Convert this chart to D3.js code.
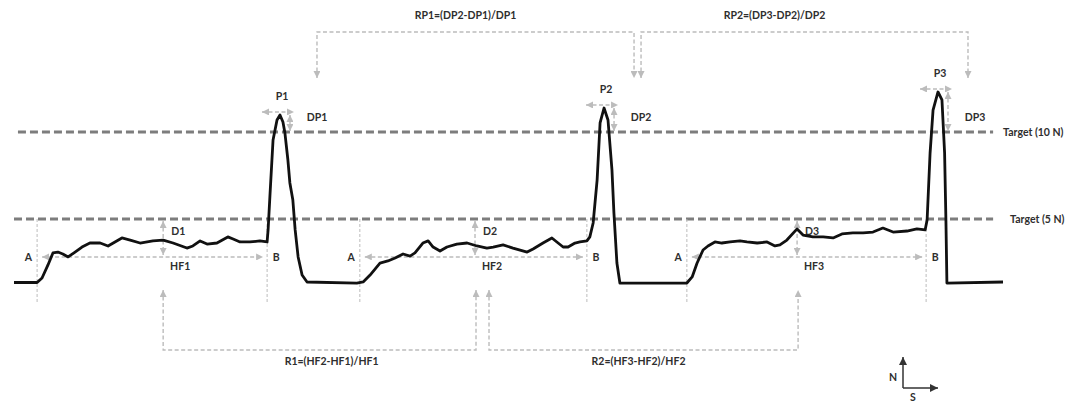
<!DOCTYPE html>
<html>
<head>
<meta charset="utf-8">
<script src="https://cdn.jsdelivr.net/npm/d3@7"></script>
<style>
  html, body { margin: 0; padding: 0; background: #fff; }
  svg { display: block; font-family: Lato, "Open Sans", sans-serif; }
</style>
</head>
<body>
<svg id="chart" width="1077" height="404"></svg>
<script>
// Grip force trace: time (s) and force (N)
const traceTime = [
  0, 0.70, 0.85, 1.03, 1.18, 1.33, 1.48, 1.64, 1.85, 2.06,
  2.30, 2.61, 2.85, 3.06, 3.27, 3.52, 3.82, 4.21, 4.52, 4.82,
  5.24, 5.42, 5.64, 5.85, 6.15, 6.48, 6.64, 6.85, 7.15, 7.45,
  7.67, 7.70, 7.76, 7.85, 7.97, 8.06, 8.15, 8.21, 8.30, 8.36,
  8.45, 8.52, 8.61, 8.73, 8.88, 10.39,
  10.58, 10.79, 11.09, 11.33, 11.55, 11.79, 12.00, 12.15, 12.39, 12.55,
  12.70, 12.91, 13.12, 13.42, 13.73, 14.03, 14.33, 14.52, 14.82, 15.12,
  15.55, 15.73, 16.03, 16.30, 16.45, 16.64, 16.79, 17.00, 17.15, 17.36,
  17.45, 17.55, 17.67, 17.76, 17.88, 18.00, 18.12, 18.18, 18.27, 18.36,
  20.39,
  20.55, 20.70, 20.88, 21.03, 21.24, 21.45, 21.70, 22.00, 22.21, 22.52,
  22.82, 23.06, 23.21, 23.42, 23.73, 23.91, 24.21, 24.52, 24.82, 25.09,
  25.42, 25.73, 26.03, 26.33, 26.64, 27.06, 27.36, 27.61, 27.67, 27.76,
  27.85, 28.00, 28.12, 28.20, 28.24, 28.27, 29.97
];
const traceForce = [
  1.35, 1.35, 1.61, 2.36, 3.05, 3.10, 2.99, 2.82, 3.10, 3.39,
  3.62, 3.62, 3.45, 3.68, 3.91, 3.79, 3.62, 3.74, 3.79, 3.62,
  3.33, 3.45, 3.74, 3.56, 3.62, 3.97, 3.85, 3.68, 3.68, 3.74,
  3.68, 4.37, 6.49, 9.54, 10.69, 10.98, 10.57, 9.94, 8.39, 7.07,
  6.09, 4.37, 2.82, 1.78, 1.38, 1.32,
  1.38, 1.78, 2.47, 2.59, 2.76, 2.99, 2.87, 3.05, 3.62, 3.74,
  3.39, 3.16, 3.39, 3.56, 3.62, 3.45, 3.33, 3.39, 3.51, 3.33,
  3.10, 3.28, 3.62, 3.91, 3.68, 3.39, 3.39, 3.62, 3.68, 3.74,
  3.97, 4.77, 7.24, 10.52, 11.38, 10.69, 7.82, 5.34, 2.47, 1.32,
  1.32,
  1.67, 2.47, 3.22, 3.45, 3.68, 3.62, 3.68, 3.74, 3.68, 3.62,
  3.68, 3.45, 3.51, 3.79, 4.43, 4.08, 3.97, 3.97, 3.91, 4.14,
  4.20, 4.20, 4.25, 4.48, 4.25, 4.31, 4.43, 4.37, 4.94, 8.79,
  11.26, 12.30, 11.84, 8.79, 4.94, 1.32, 1.38
];

// Target force levels
const targetForces = [10, 5];
const targetLabels = ["Target (10 N)", "Target (5 N)"];
const targetEnd = 29.67;

// Events for each of the three trials
const cycleIds = [1, 2, 3];
const onsetTimes = [0.70, 10.48, 20.39];     // A: hold starts
const releaseTimes = [7.67, 17.36, 27.64];   // B: hold ends, pulse starts
const deviationTimes = [4.52, 13.97, 23.73]; // where D is measured
const holdForceLevel = 2.82;                 // level of the HF span arrows

// Ratio definitions
const holdRatios = ["R1=(HF2-HF1)/HF1", "R2=(HF3-HF2)/HF2"];
const peakRatios = ["RP1=(DP2-DP1)/DP1", "RP2=(DP3-DP2)/DP2"];

const svg = d3.select("#chart");
const x = d3.scaleLinear().domain([0, 30]).range([14, 1004]);
const y = d3.scaleLinear().domain([0, 10]).range([306, 132]);

const guide = "#bcbcbc";
const ink = "#2e2e2e";
const fontSize = 10.5;

// arrowheads
const defs = svg.append("defs");
function marker(id, color, size) {
  defs.append("marker")
    .attr("id", id)
    .attr("viewBox", "0 0 10 10")
    .attr("refX", 10).attr("refY", 5)
    .attr("markerWidth", size).attr("markerHeight", size)
    .attr("markerUnits", "userSpaceOnUse")
    .attr("orient", "auto-start-reverse")
    .append("path")
    .attr("d", "M0,0 L10,5 L0,10 Z")
    .attr("fill", color);
}
marker("ag", guide, 7);
marker("ak", "#333", 8);

const trace = traceTime.map((t, i) => [t, traceForce[i]]);

// peak of each pulse, found after its release time
const peaks = releaseTimes.map(rt => d3.greatest(
  trace.filter(d => d[0] >= rt && d[0] <= rt + 1.5), d => d[1]));

// target lines
svg.append("g").selectAll("line").data(targetForces).join("line")
  .attr("x1", (d, i) => i === 0 ? x(0.12) : x(0))
  .attr("x2", x(targetEnd))
  .attr("y1", d => y(d)).attr("y2", d => y(d))
  .attr("stroke", "#7d7d7d").attr("stroke-width", 3)
  .attr("stroke-dasharray", "8,4");

svg.append("g").selectAll("text").data(targetLabels).join("text")
  .attr("x", (d, i) => x(targetEnd) + (i === 0 ? 10 : 17))
  .attr("y", (d, i) => y(targetForces[i]))
  .attr("dy", "0.35em")
  .attr("fill", ink).attr("font-size", fontSize).attr("font-weight", 700)
  .text(d => d);

const g = svg.append("g");

function guideLine(x1, y1, x2, y2, startArrow, endArrow, dash) {
  const l = g.append("line")
    .attr("x1", x1).attr("y1", y1).attr("x2", x2).attr("y2", y2)
    .attr("stroke", guide).attr("stroke-width", 1.4)
    .attr("stroke-dasharray", dash || "4,2.5");
  if (startArrow) l.attr("marker-start", "url(#ag)");
  if (endArrow) l.attr("marker-end", "url(#ag)");
  return l;
}
function label(tx, ty, text, anchor) {
  g.append("text").attr("x", tx).attr("y", ty).attr("dy", "0.35em")
    .attr("text-anchor", anchor || "middle")
    .attr("fill", ink).attr("font-size", fontSize).attr("font-weight", 700)
    .text(text);
}

const guideBottom = y(5) + 84;

cycleIds.forEach((id, i) => {
  const xa = x(onsetTimes[i]), xb = x(releaseTimes[i]), xd = x(deviationTimes[i]);
  // A and B markers
  g.append("line").attr("x1", xa).attr("x2", xa).attr("y1", y(5)).attr("y2", guideBottom)
    .attr("stroke", guide).attr("stroke-width", 1).attr("stroke-dasharray", "3,2");
  g.append("line").attr("x1", xb).attr("x2", xb).attr("y1", y(5)).attr("y2", guideBottom)
    .attr("stroke", guide).attr("stroke-width", 1).attr("stroke-dasharray", "3,2");
  label(xa - 5, y(holdForceLevel), "A", "end");
  label(xb + 9, y(holdForceLevel), "B");
  // hold span HF
  guideLine(xa + 5, y(holdForceLevel), xb - 4, y(holdForceLevel), true, true);
  label(xd + 17, y(holdForceLevel) + 9, "HF" + id);
  // deviation from 5 N target
  guideLine(xd, y(5) + 2, xd, y(holdForceLevel) - 2, true, true);
  label(xd + 8, y(5) + 12, "D" + id, "start");

  // peak markers
  const px = x(peaks[i][0]), py = y(peaks[i][1]);
  guideLine(px - 18, py - 3, px + 14, py - 3, true, true);
  guideLine(px + 10, py, px + 10, y(10) - 1, true, true);
  label(px + 2, py - 19, "P" + id);
  label(px + 37, y(10) - 15, "DP" + id);
});

// bracket joining consecutive peaks
const topY = 32, topTip = 78;
const topLabelShift = [-10, -30];
peakRatios.forEach((txt, i) => {
  const x1 = x(peaks[i][0]) + 37, x2 = x(peaks[i + 1][0]) + 30;
  g.append("path")
    .attr("d", `M${x1},${topTip} V${topY} H${x2} V${topTip}`)
    .attr("fill", "none").attr("stroke", guide).attr("stroke-width", 1.4)
    .attr("stroke-dasharray", "4,2.5")
    .attr("marker-start", "url(#ag)").attr("marker-end", "url(#ag)");
  label((x1 + x2) / 2 + topLabelShift[i], 15, txt);
});

// bracket joining consecutive hold phases
const botY = 350, botTip = 290;
const botLabelShift = [12, -5];
holdRatios.forEach((txt, i) => {
  const x1 = x(deviationTimes[i]) + 14 * i, x2 = x(deviationTimes[i + 1]) + 1;
  g.append("path")
    .attr("d", `M${x1},${botTip} V${botY} H${x2} V${botTip}`)
    .attr("fill", "none").attr("stroke", guide).attr("stroke-width", 1.4)
    .attr("stroke-dasharray", "4,2.5")
    .attr("marker-start", "url(#ag)").attr("marker-end", "url(#ag)");
  label((x1 + x2) / 2 + botLabelShift[i], 361, txt);
});

// force trace
svg.append("path")
  .datum(trace)
  .attr("d", d3.line().x(d => x(d[0])).y(d => y(d[1])))
  .attr("fill", "none").attr("stroke", "#111").attr("stroke-width", 2.8)
  .attr("stroke-linejoin", "round");

// compass
const cx = 903, cy = 388;
svg.append("line").attr("x1", cx).attr("y1", cy).attr("x2", cx).attr("y2", cy - 31)
  .attr("stroke", "#333").attr("stroke-width", 1.5).attr("marker-end", "url(#ak)");
svg.append("line").attr("x1", cx).attr("y1", cy).attr("x2", cx + 35).attr("y2", cy)
  .attr("stroke", "#333").attr("stroke-width", 1.5).attr("marker-end", "url(#ak)");
svg.append("text").attr("x", cx - 10).attr("y", cy - 11).attr("dy", "0.35em")
  .attr("text-anchor", "middle").attr("fill", ink).attr("font-size", fontSize).attr("font-weight", 700).text("N");
svg.append("text").attr("x", cx + 10).attr("y", cy + 9).attr("dy", "0.35em")
  .attr("text-anchor", "middle").attr("fill", ink).attr("font-size", fontSize).attr("font-weight", 700).text("S");
</script>
</body>
</html>
